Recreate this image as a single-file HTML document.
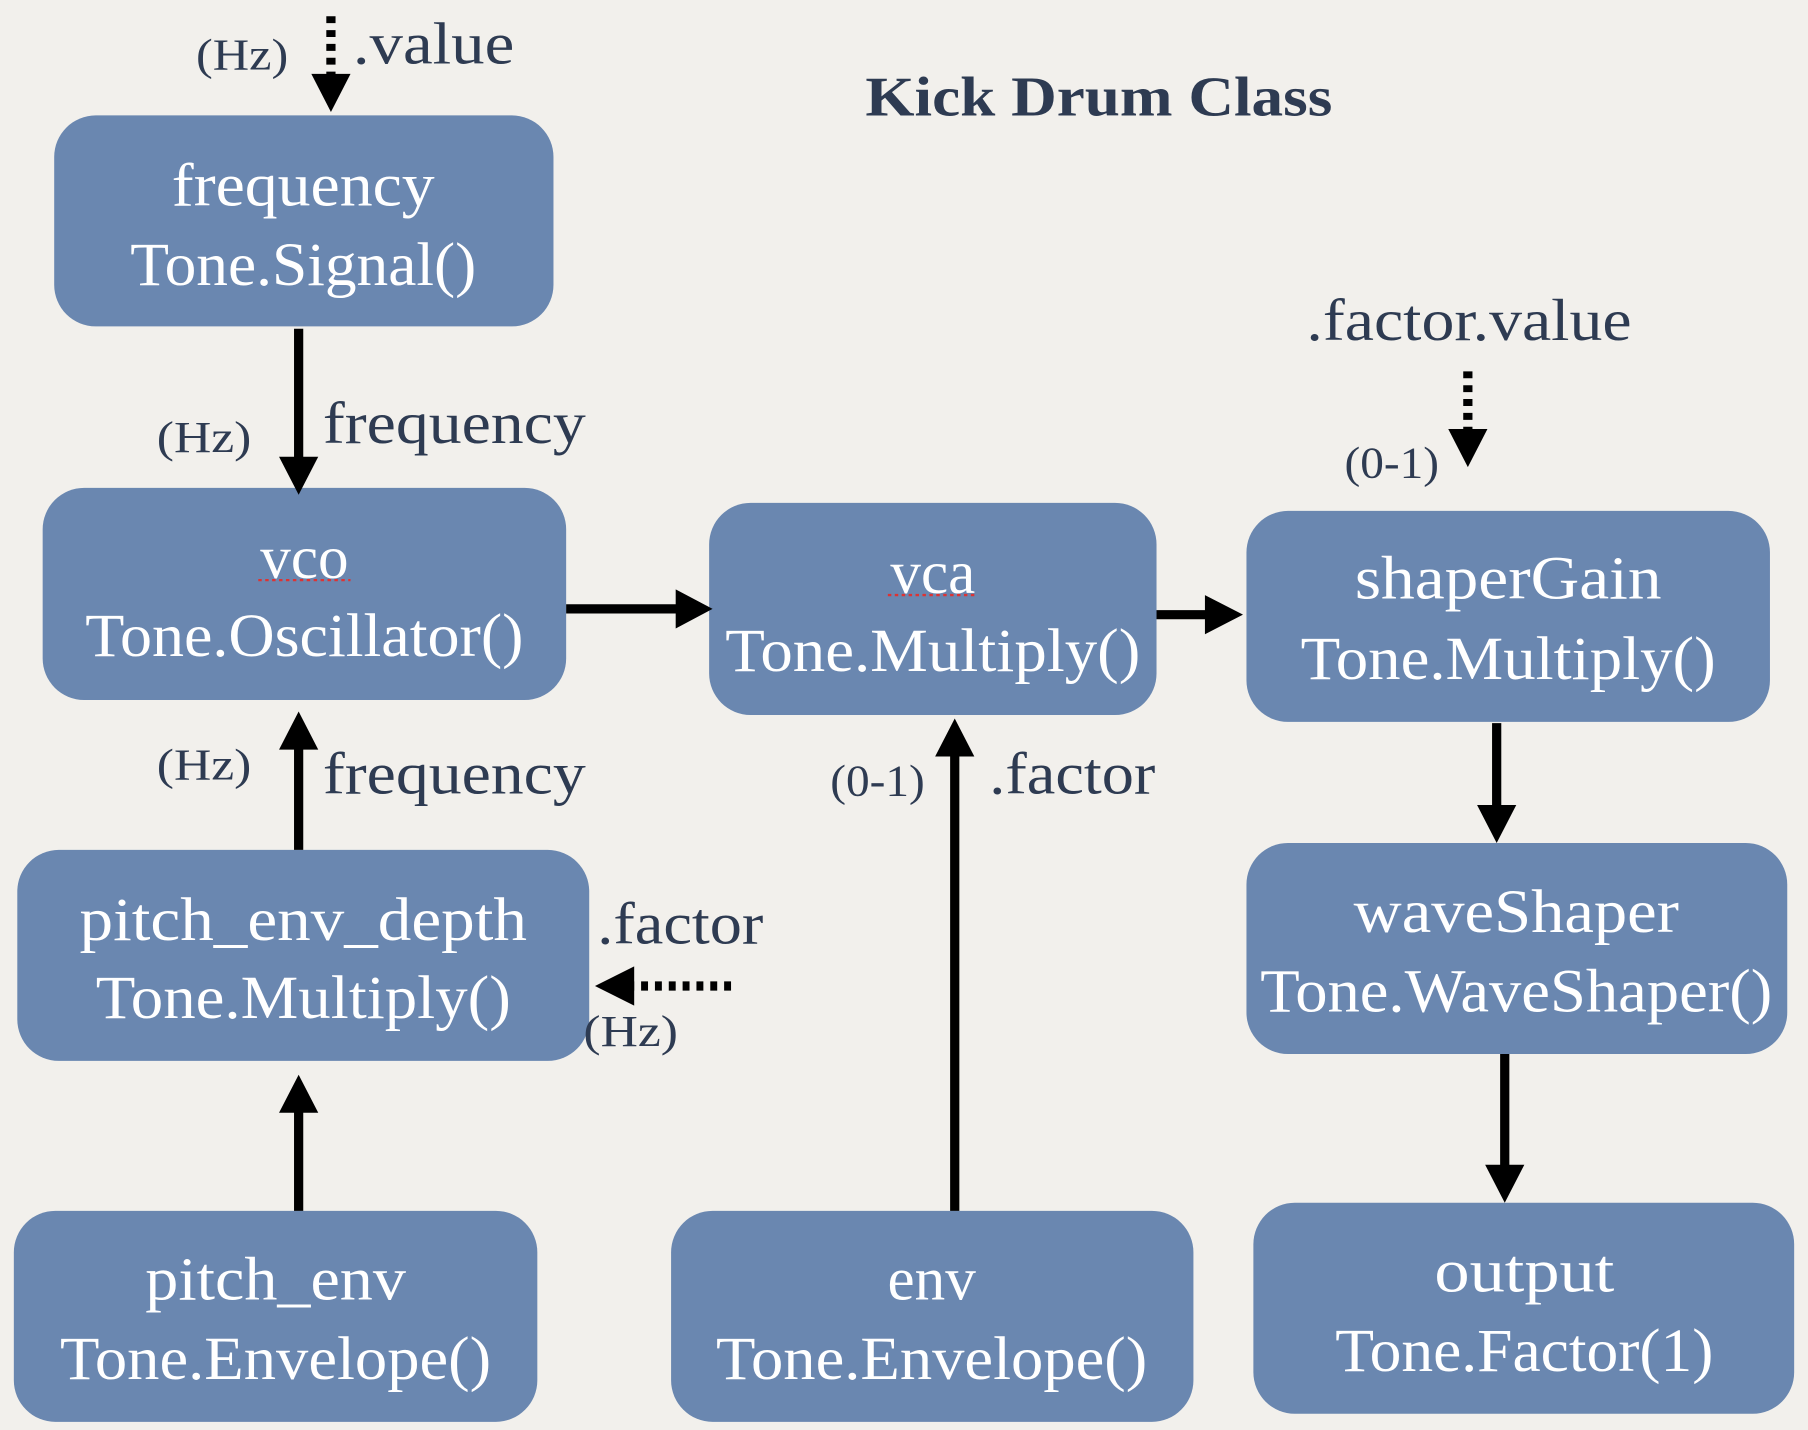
<!DOCTYPE html>
<html><head><meta charset="utf-8"><style>
html,body{margin:0;padding:0;background:#f2f0ec;}
svg{display:block}
text{font-family:"Liberation Serif",serif;}
.b{fill:#6a87b0}
.t{fill:#fff;font-size:53px;text-anchor:middle}
.l{fill:#2e3b52;font-size:51px}
.s{fill:#2e3b52;font-size:39px}
.ln{stroke:#000;stroke-width:8;fill:none}
.dt{stroke:#000;stroke-width:8;fill:none;stroke-dasharray:6 6}
</style></head><body>
<svg width="1808" height="1430" viewBox="0 0 1568 1240" xmlns="http://www.w3.org/2000/svg">
<rect width="1568" height="1240" fill="#f2f0ec"/>
<text x="953" y="100" text-anchor="middle" textLength="405" lengthAdjust="spacingAndGlyphs" style="font-size:49px;font-weight:bold;fill:#2e3b52">Kick Drum Class</text>

<rect class="b" x="47" y="100" width="433" height="183" rx="36"/>
<text class="t" x="263" y="178" textLength="228" lengthAdjust="spacingAndGlyphs">frequency</text><text class="t" x="263" y="247" textLength="300" lengthAdjust="spacingAndGlyphs">Tone.Signal()</text>

<rect class="b" x="37" y="423" width="454" height="184" rx="36"/>
<text class="t" x="264" y="501">vco</text><text class="t" x="264" y="569" textLength="380" lengthAdjust="spacingAndGlyphs">Tone.Oscillator()</text>
<line x1="224" y1="503" x2="304" y2="503" stroke="#d33" stroke-width="2" stroke-dasharray="3 3"/>

<rect class="b" x="615" y="436" width="388" height="184" rx="36"/>
<text class="t" x="809" y="514">vca</text><text class="t" x="809" y="582" textLength="360" lengthAdjust="spacingAndGlyphs">Tone.Multiply()</text>
<line x1="770" y1="516" x2="848" y2="516" stroke="#d33" stroke-width="2" stroke-dasharray="3 3"/>

<rect class="b" x="1081" y="443" width="454" height="183" rx="36"/>
<text class="t" x="1308" y="519" textLength="266" lengthAdjust="spacingAndGlyphs">shaperGain</text><text class="t" x="1308" y="589" textLength="360" lengthAdjust="spacingAndGlyphs">Tone.Multiply()</text>

<rect class="b" x="15" y="737" width="496" height="183" rx="36"/>
<text class="t" x="263" y="815" textLength="388" lengthAdjust="spacingAndGlyphs">pitch_env_depth</text><text class="t" x="263" y="883" textLength="360" lengthAdjust="spacingAndGlyphs">Tone.Multiply()</text>

<rect class="b" x="1081" y="731" width="469" height="183" rx="36"/>
<text class="t" x="1315" y="808" textLength="282" lengthAdjust="spacingAndGlyphs">waveShaper</text><text class="t" x="1315" y="877" textLength="444" lengthAdjust="spacingAndGlyphs">Tone.WaveShaper()</text>

<rect class="b" x="12" y="1050" width="454" height="183" rx="36"/>
<text class="t" x="239" y="1127" textLength="226" lengthAdjust="spacingAndGlyphs">pitch_env</text><text class="t" x="239" y="1196" textLength="374" lengthAdjust="spacingAndGlyphs">Tone.Envelope()</text>

<rect class="b" x="582" y="1050" width="453" height="183" rx="36"/>
<text class="t" x="808" y="1127">env</text><text class="t" x="808" y="1196" textLength="374" lengthAdjust="spacingAndGlyphs">Tone.Envelope()</text>

<rect class="b" x="1087" y="1043" width="469" height="183" rx="36"/>
<text class="t" x="1322" y="1120" textLength="156" lengthAdjust="spacingAndGlyphs">output</text><text class="t" x="1322" y="1189" textLength="328" lengthAdjust="spacingAndGlyphs">Tone.Factor(1)</text>

<!-- arrows -->
<line class="dt" x1="287" y1="14" x2="287" y2="66"/><polygon points="270,64 304,64 287,97"/>
<line class="ln" x1="259" y1="285" x2="259" y2="398"/><polygon points="242,396 276,396 259,429"/>
<line class="ln" x1="491" y1="528" x2="588" y2="528"/><polygon points="586,511 586,545 618,528"/>
<line class="ln" x1="1003" y1="533" x2="1047" y2="533"/><polygon points="1045,516 1045,550 1078,533"/>
<line class="ln" x1="1298" y1="627" x2="1298" y2="700"/><polygon points="1281,698 1315,698 1298,731"/>
<line class="ln" x1="1305" y1="914" x2="1305" y2="1012"/><polygon points="1288,1010 1322,1010 1305,1043"/>
<line class="ln" x1="259" y1="737" x2="259" y2="648"/><polygon points="242,650 276,650 259,617"/>
<line class="ln" x1="259" y1="1050" x2="259" y2="963"/><polygon points="242,965 276,965 259,932"/>
<line class="ln" x1="828" y1="1050" x2="828" y2="654"/><polygon points="811,656 845,656 828,623"/>
<line class="dt" x1="634" y1="855" x2="548" y2="855"/><polygon points="550,838 550,872 516,855"/>
<line class="dt" x1="1273" y1="322" x2="1273" y2="374"/><polygon points="1256,372 1290,372 1273,405"/>

<!-- labels -->
<text class="s" x="170" y="60" textLength="80" lengthAdjust="spacingAndGlyphs">(Hz)</text>
<text class="l" x="306" y="55" textLength="140" lengthAdjust="spacingAndGlyphs">.value</text>
<text class="s" x="136" y="392" textLength="82" lengthAdjust="spacingAndGlyphs">(Hz)</text>
<text class="l" x="280" y="384" textLength="228" lengthAdjust="spacingAndGlyphs">frequency</text>
<text class="s" x="136" y="676" textLength="82" lengthAdjust="spacingAndGlyphs">(Hz)</text>
<text class="l" x="280" y="688" textLength="228" lengthAdjust="spacingAndGlyphs">frequency</text>
<text class="s" x="720" y="690" textLength="82" lengthAdjust="spacingAndGlyphs">(0-1)</text>
<text class="l" x="858" y="688" textLength="144" lengthAdjust="spacingAndGlyphs">.factor</text>
<text class="l" x="518" y="818" textLength="144" lengthAdjust="spacingAndGlyphs">.factor</text>
<text class="s" x="506" y="907" textLength="82" lengthAdjust="spacingAndGlyphs">(Hz)</text>
<text class="l" x="1133" y="295" textLength="282" lengthAdjust="spacingAndGlyphs">.factor.value</text>
<text class="s" x="1166" y="414" textLength="82" lengthAdjust="spacingAndGlyphs">(0-1)</text>
</svg>
</body></html>
